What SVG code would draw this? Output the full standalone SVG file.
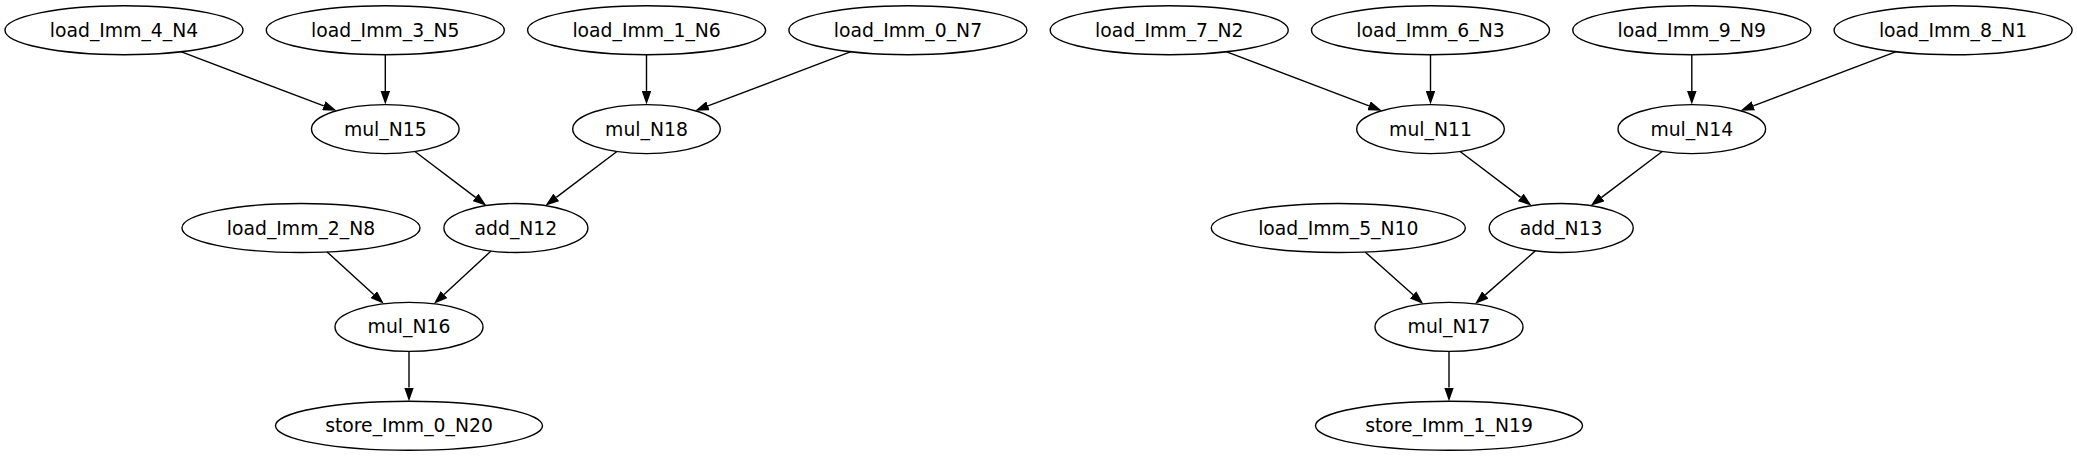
<svg xmlns="http://www.w3.org/2000/svg" width="2077" height="456" viewBox="0 0 2077 456">
<style>
.n ellipse{fill:none;stroke:#000;stroke-width:1.4}
.n text{font-family:"DejaVu Sans",sans-serif;font-size:18.8px;text-anchor:middle;fill:#000}
#edges line{stroke:#000;stroke-width:1.4;marker-end:url(#ah)}
</style>
<defs>
<marker id="ah" viewBox="0 0 10 7" refX="0" refY="3.5" markerWidth="13.7" markerHeight="9.6" markerUnits="userSpaceOnUse" orient="auto">
<path d="M0,0 L10,3.5 L0,7 z" fill="#000"/>
</marker>
</defs>
<rect width="2077" height="456" fill="#fff"/>
<g id="edges">
<line x1="180.9" y1="51.7" x2="323.8" y2="105.85"/>
<line x1="385.3" y1="54.7" x2="385.3" y2="90.9"/>
<line x1="646.5" y1="54.7" x2="646.5" y2="90.9"/>
<line x1="851.0" y1="51.7" x2="708.0" y2="105.85"/>
<line x1="414.9" y1="151.5" x2="475.5" y2="197.4"/>
<line x1="616.9" y1="151.5" x2="556.3" y2="197.4"/>
<line x1="327.1" y1="251.9" x2="373.7" y2="294.6"/>
<line x1="491.05" y1="251.0" x2="444.0" y2="294.5"/>
<line x1="409" y1="351.4" x2="409" y2="387.6"/>
<line x1="1226.1" y1="51.7" x2="1369.0" y2="105.85"/>
<line x1="1430.5" y1="54.7" x2="1430.5" y2="90.9"/>
<line x1="1691.8" y1="54.7" x2="1691.8" y2="90.9"/>
<line x1="1896.2" y1="51.7" x2="1753.3" y2="105.85"/>
<line x1="1460.1" y1="151.5" x2="1520.7" y2="197.4"/>
<line x1="1662.2" y1="151.5" x2="1601.6" y2="197.4"/>
<line x1="1365.1" y1="251.95" x2="1413.1" y2="294.8"/>
<line x1="1535.3" y1="250.9" x2="1485.3" y2="294.9"/>
<line x1="1449" y1="351.4" x2="1449" y2="387.6"/>
</g>
<g id="N4" class="n"><ellipse cx="124" cy="30.2" rx="119" ry="24.5"/><text x="124" y="36.7">load_Imm_4_N4</text></g>
<g id="N5" class="n"><ellipse cx="385.3" cy="30.2" rx="119" ry="24.5"/><text x="385.3" y="36.7">load_Imm_3_N5</text></g>
<g id="N6" class="n"><ellipse cx="646.6" cy="30.2" rx="119" ry="24.5"/><text x="646.6" y="36.7">load_Imm_1_N6</text></g>
<g id="N7" class="n"><ellipse cx="907.9" cy="30.2" rx="119" ry="24.5"/><text x="907.9" y="36.7">load_Imm_0_N7</text></g>
<g id="N2" class="n"><ellipse cx="1169.2" cy="30.2" rx="119" ry="24.5"/><text x="1169.2" y="36.7">load_Imm_7_N2</text></g>
<g id="N3" class="n"><ellipse cx="1430.5" cy="30.2" rx="119" ry="24.5"/><text x="1430.5" y="36.7">load_Imm_6_N3</text></g>
<g id="N9" class="n"><ellipse cx="1691.8" cy="30.2" rx="119" ry="24.5"/><text x="1691.8" y="36.7">load_Imm_9_N9</text></g>
<g id="N1" class="n"><ellipse cx="1953.1" cy="30.2" rx="119" ry="24.5"/><text x="1953.1" y="36.7">load_Imm_8_N1</text></g>
<g id="N15" class="n"><ellipse cx="385.3" cy="129.1" rx="73.8" ry="24.5"/><text x="385.3" y="135.6">mul_N15</text></g>
<g id="N18" class="n"><ellipse cx="646.5" cy="129.1" rx="73.8" ry="24.5"/><text x="646.5" y="135.6">mul_N18</text></g>
<g id="N11" class="n"><ellipse cx="1430.5" cy="129.1" rx="73.8" ry="24.5"/><text x="1430.5" y="135.6">mul_N11</text></g>
<g id="N14" class="n"><ellipse cx="1691.8" cy="129.1" rx="73.8" ry="24.5"/><text x="1691.8" y="135.6">mul_N14</text></g>
<g id="N8" class="n"><ellipse cx="301" cy="228" rx="119" ry="24.5"/><text x="301" y="234.5">load_Imm_2_N8</text></g>
<g id="N12" class="n"><ellipse cx="515.9" cy="228" rx="72" ry="24.5"/><text x="515.9" y="234.5">add_N12</text></g>
<g id="N10" class="n"><ellipse cx="1338.3" cy="228" rx="127" ry="24.5"/><text x="1338.3" y="234.5">load_Imm_5_N10</text></g>
<g id="N13" class="n"><ellipse cx="1561.2" cy="228" rx="72" ry="24.5"/><text x="1561.2" y="234.5">add_N13</text></g>
<g id="N16" class="n"><ellipse cx="409" cy="326.9" rx="74" ry="24.5"/><text x="409" y="333.4">mul_N16</text></g>
<g id="N17" class="n"><ellipse cx="1449" cy="326.9" rx="74" ry="24.5"/><text x="1449" y="333.4">mul_N17</text></g>
<g id="N20" class="n"><ellipse cx="409" cy="425.8" rx="133.5" ry="24.5"/><text x="409" y="432.3">store_Imm_0_N20</text></g>
<g id="N19" class="n"><ellipse cx="1449" cy="425.8" rx="133.5" ry="24.5"/><text x="1449" y="432.3">store_Imm_1_N19</text></g>
</svg>
